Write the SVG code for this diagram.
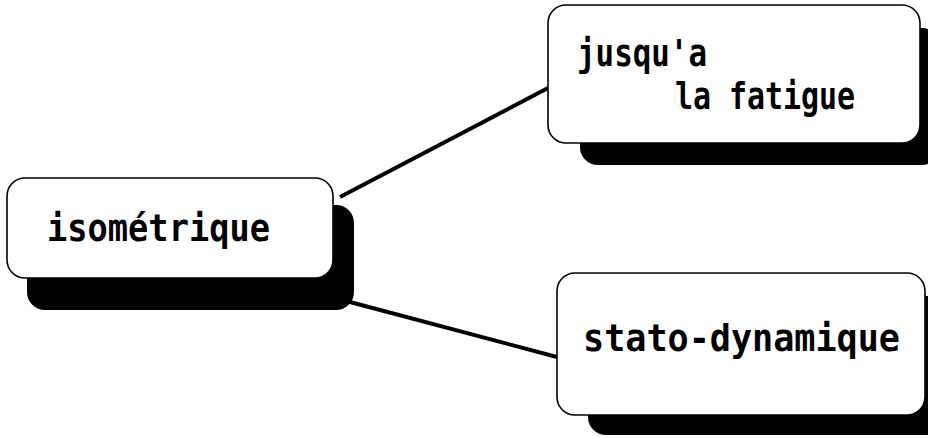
<svg xmlns="http://www.w3.org/2000/svg" width="928" height="438" viewBox="0 0 928 438">
<style>
.box{fill:#fff;stroke:#000;stroke-width:1.6}
.sh{fill:#000}
.t{font-family:"DejaVu Sans Mono","Liberation Mono",monospace;font-size:38px;font-weight:bold;fill:#000}
.c{stroke:#000;stroke-width:4;fill:none}
</style>
<rect width="928" height="438" fill="#fff"/>
<g id="connectors">
<line class="c" x1="340" y1="197" x2="548" y2="88"/>
<line class="c" x1="350" y1="302" x2="557" y2="357"/>
</g>
<g id="node-isometrique">
<rect class="sh" x="27" y="205" width="327" height="105" rx="18"/>
<rect class="box" x="7" y="178" width="326" height="100" rx="18"/>
<text class="t" x="47" y="241" textLength="223" lengthAdjust="spacingAndGlyphs">isométrique</text>
</g>
<g id="node-fatigue">
<rect class="sh" x="580" y="28" width="360" height="137" rx="18"/>
<rect class="box" x="548" y="5" width="372" height="138" rx="18"/>
<text class="t" x="577" y="66" textLength="130" lengthAdjust="spacingAndGlyphs">jusqu'a</text>
<text class="t" x="675" y="109" textLength="180" lengthAdjust="spacingAndGlyphs">la fatigue</text>
</g>
<g id="node-stato">
<rect class="sh" x="588" y="296" width="360" height="139" rx="18"/>
<rect class="box" x="557" y="273" width="368" height="142" rx="18"/>
<text class="t" x="583" y="351" textLength="317" lengthAdjust="spacingAndGlyphs">stato-dynamique</text>
</g>
</svg>
